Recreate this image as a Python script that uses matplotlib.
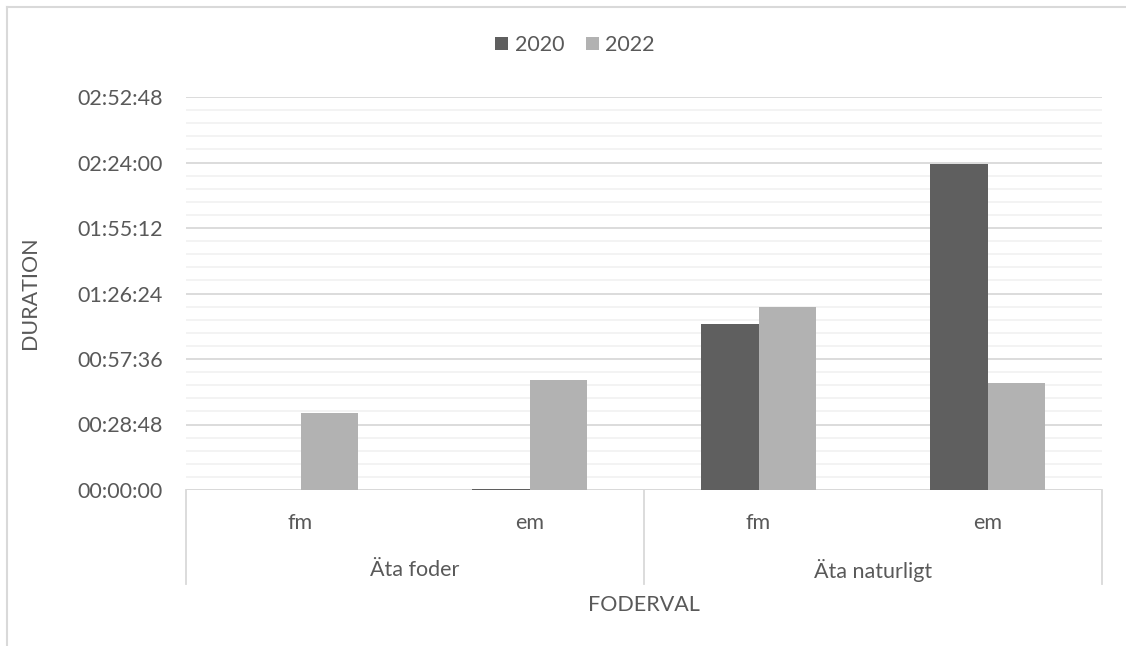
import matplotlib
matplotlib.use("Agg")
import matplotlib.pyplot as plt
from matplotlib.lines import Line2D
from matplotlib.patches import Patch
import matplotlib.transforms as mtransforms

plt.rcParams['font.family'] = ['Lato', 'DejaVu Sans']

# Durations in seconds per feeding choice / sex
groups = ["Äta foder", "Äta naturligt"]
subcats = ["fm", "em", "fm", "em"]
series_names = ["2020", "2022"]
dur_2020 = [0, 20, 4387, 8592]
dur_2022 = [2030, 2902, 4828, 2831]
colors = ["#5f5f5f", "#b2b2b2"]

major_step = 1728          # 00:28:48
y_max = 6 * major_step     # 02:52:48

text_color = "#595959"
fs = 15.5
W, H = 1126, 646
fig = plt.figure(figsize=(W / 100, H / 100), dpi=100)

left, right, top, bottom = 186, 1102, 97, 490
ax = fig.add_axes([left / W, 1 - bottom / H, (right - left) / W, (bottom - top) / H])

x = list(range(len(subcats)))
bw = 0.25
ax.bar([i - bw / 2 for i in x], dur_2020, width=bw, color=colors[0], zorder=3, linewidth=0)
ax.bar([i + bw / 2 for i in x], dur_2022, width=bw, color=colors[1], zorder=3, linewidth=0)

ax.set_xlim(-0.5, len(subcats) - 0.5)
ax.set_ylim(0, y_max)

def hms(v):
    v = int(round(v))
    return f"{v // 3600:02d}:{(v % 3600) // 60:02d}:{v % 60:02d}"

majors = [k * major_step for k in range(7)]
ax.set_yticks(majors)
ax.set_yticklabels([hms(v) for v in majors])
minors = [k * major_step / 5 for k in range(31) if k % 5 != 0]
ax.set_yticks(minors, minor=True)
ax.tick_params(axis='y', which='both', length=0, pad=16.5, labelsize=fs, labelcolor=text_color)
ax.tick_params(axis='x', which='both', length=0, labelbottom=False)

ax.grid(axis='y', which='major', color="#d9d9d9", linewidth=1.3, zorder=0)
ax.grid(axis='y', which='minor', color="#f2f2f2", linewidth=1.3, zorder=0)
for s in ax.spines.values():
    s.set_visible(False)
ax.axhline(0, color="#d9d9d9", linewidth=1.3, zorder=2)

# Multi-level category axis
trans = mtransforms.blended_transform_factory(ax.transData, ax.transAxes)
ax_h = bottom - top
sep_y = -(584 - bottom) / ax_h
for xs in (-0.5, 1.5, 3.5):
    ax.add_line(Line2D([xs, xs], [0, sep_y], transform=trans, color="#d9d9d9",
                       linewidth=1.3, clip_on=False))
for i, lab in enumerate(subcats):
    ax.text(i, -(523 - bottom) / ax_h, lab, transform=trans, ha='center', va='center',
            fontsize=fs, color=text_color)
for g, lab in enumerate(groups):
    ax.text(2 * g + 0.5, -(570 - bottom) / ax_h, lab, transform=trans, ha='center',
            va='center', fontsize=fs, color=text_color)

fig.text((left + right) / 2 / W, 1 - 605 / H, "FODERVAL", ha='center', va='center',
         fontsize=fs, color=text_color)
fig.text(30 / W, 1 - 293 / H, "DURATION", ha='center', va='center', rotation=90,
         fontsize=fs, color=text_color)

# Legend
handles = [Patch(facecolor=c, edgecolor='none') for c in colors]
fig.legend(handles, series_names, loc='center', bbox_to_anchor=(575 / W, 1 - 45 / H),
           ncol=2, frameon=False, fontsize=fs, handlelength=0.6, handleheight=0.6,
           handletextpad=0.3, columnspacing=1.0, labelcolor=text_color)

# Outer chart border (top and left edges)
fig.add_artist(Line2D([7 / W, 1], [1 - 7 / H, 1 - 7 / H], transform=fig.transFigure,
                      color="#d9d9d9", linewidth=1.5))
fig.add_artist(Line2D([7 / W, 7 / W], [1 - 7 / H, 0], transform=fig.transFigure,
                      color="#d9d9d9", linewidth=1.5))

fig.savefig("out.png", dpi=100, facecolor="white")
